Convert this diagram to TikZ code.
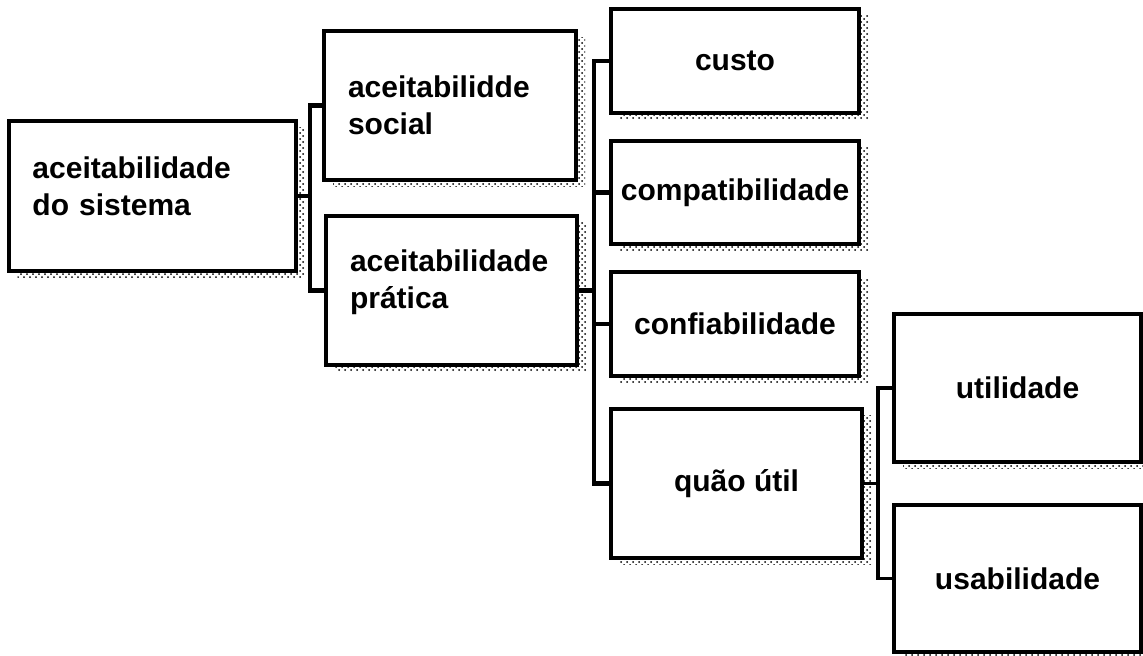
\documentclass[tikz,border=0pt]{standalone}
\usepackage{fontspec}
\setmainfont{Liberation Sans}
\usetikzlibrary{shadows,patterns}

\begin{document}
\begin{tikzpicture}[x=0.5pt,y=-0.5pt,
  box/.style={draw=black,line width=2pt,fill=white,shape=rectangle,inner sep=0pt,
    drop shadow={shadow xshift=4.5pt,shadow yshift=-3pt,fill=black!20,opacity=1,
      pattern=crosshatch dots,pattern color=black},
    font=\fontsize{15}{18.5}\selectfont\bfseries},
  leftbox/.style={box,align=left,inner xsep=12pt},
  midbox/.style={box,align=center},
  link/.style={black,line width=2.25pt},
  thinlink/.style={black,line width=1.6pt}]

%% - picture frame
%% - --------------------------------------

\useasboundingbox (0,0) rectangle (1143,655);

%% - Draw boxes
%% - --------------------------------------

%% - first level
\node[leftbox,text width=119.5pt,minimum height=75pt,text depth=28pt] (sistema) at (152,196) {aceitabilidade\\do sistema};

%% - second level
\node[leftbox,text width=102pt,minimum height=74.5pt] (social) at (450,105.5) {aceitabilidde\\social};
\node[leftbox,text width=101.5pt,minimum height=74.5pt,text depth=29.5pt] (pratica) at (451.5,290.5) {aceitabilidade\\prática};

%% - third level
\node[midbox,minimum width=124pt,minimum height=52pt] (custo) at (735,61) {custo};
\node[midbox,minimum width=124pt,minimum height=51.5pt] (compat) at (735,192.5) {compatibilidade};
\node[midbox,minimum width=124pt,minimum height=52pt] (confiab) at (735,324) {confiabilidade};
\node[midbox,minimum width=125.5pt,minimum height=74.5pt] (quaoutil) at (736.5,483.5) {quão útil};

%% - fourth level
\node[midbox,minimum width=123.5pt,minimum height=74pt] (utilidade) at (1017.5,388) {utilidade};
\node[midbox,minimum width=123.5pt,minimum height=73.5pt] (usab) at (1017.5,578.5) {usabilidade};

%% - Draw brackets
%% - --------------------------------------

%% - sistema -> social, pratica
\coordinate (j1) at (310,196);
\draw[link] (social.west) -| (j1) |- (pratica.west);
\draw[link] (sistema.east) -- (j1);

%% - pratica -> custo ... quao util
\coordinate (j2) at (594,290.5);
\draw[link] (custo.west) -| (j2) |- (quaoutil.west);
\draw[link] (compat.west) -- (compat.west -| j2);
\draw[link] (confiab.west) -- (confiab.west -| j2);
\draw[link] (pratica.east) -- (j2);

%% - quao util -> utilidade, usabilidade
\coordinate (j3) at (878,483.5);
\draw[thinlink] (utilidade.west) -| (j3) |- (usab.west);
\draw[thinlink] (quaoutil.east) -- (j3);

\end{tikzpicture}
\end{document}
